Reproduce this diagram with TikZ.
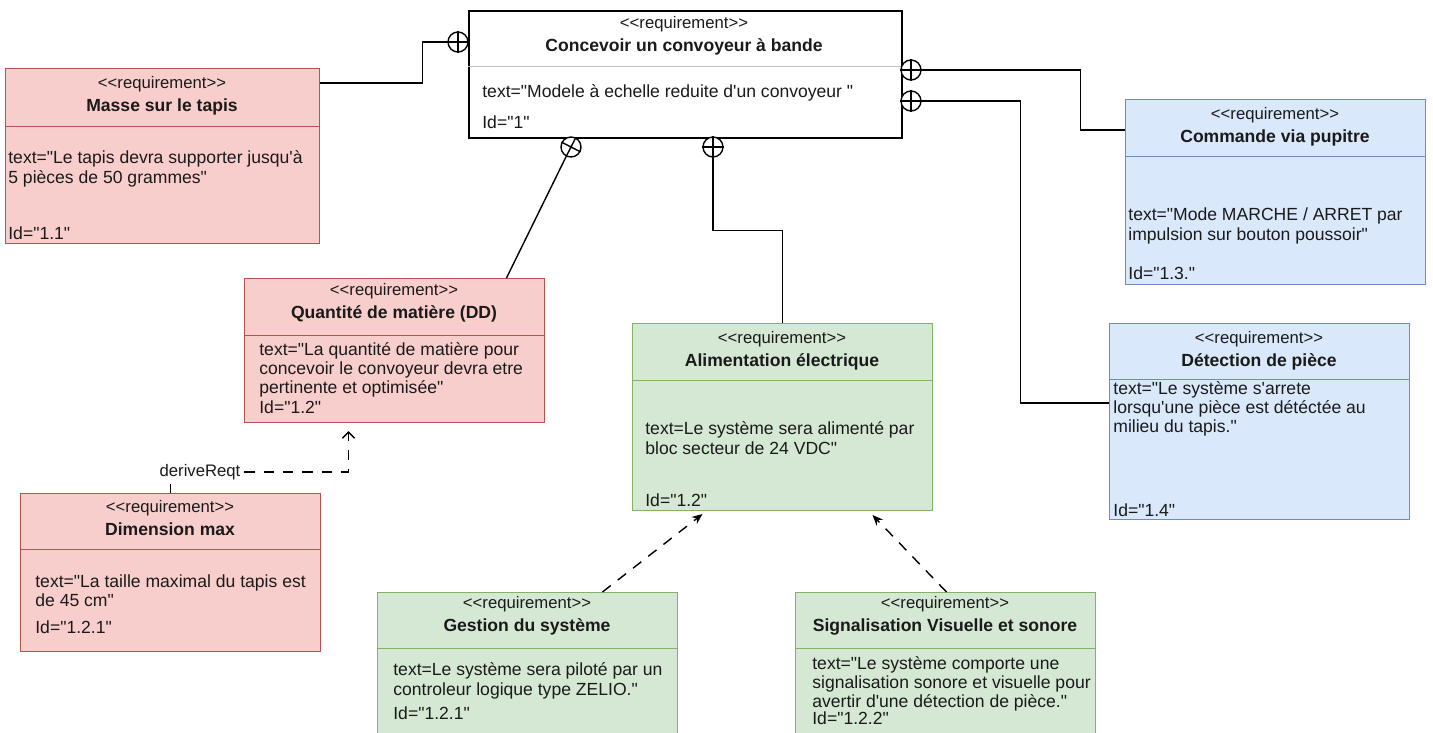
\documentclass[tikz,border=0pt]{standalone}
\usepackage{fontspec}
\setmainfont{Liberation Sans}[Ligatures=TeXOff]
\usetikzlibrary{arrows.meta}

\definecolor{rougefond}{HTML}{F8CECC}
\definecolor{rougetrait}{HTML}{B85450}
\definecolor{bleufond}{HTML}{DAE8FC}
\definecolor{bleutrait}{HTML}{6C8EBF}
\definecolor{vertfond}{HTML}{D5E8D4}
\definecolor{verttrait}{HTML}{82B366}
\definecolor{texte}{HTML}{1A1A1A}
\newcommand{\stereo}{{\fontsize{9.5}{11}\selectfont <<requirement>>}}

\begin{document}
\begin{tikzpicture}[x=0.02cm, y=-0.02cm, >={Straight Barb[length=3.5pt,width=7pt]},
    font=\fontsize{10}{11}\selectfont, text=texte]
        % Style des noeuds
        \tikzstyle{req} = [draw, anchor=north west, inner sep=0pt, minimum width=6cm, line width=0.6pt]
        \tikzstyle{reqblanc} = [req, fill=white, draw=black, line width=1pt]
        \tikzstyle{reqrouge} = [req, fill=rougefond, draw=rougetrait]
        \tikzstyle{reqbleu} = [req, fill=bleufond, draw=bleutrait]
        \tikzstyle{reqvert} = [req, fill=vertfond, draw=verttrait]
        \tikzstyle{titre} = [align=center, inner sep=0pt]
        \tikzstyle{corps} = [align=left, anchor=west, inner sep=0pt]
        \tikzstyle{contient} = [circle, draw, fill=white, minimum size=0.4cm, inner sep=0pt, line width=0.8pt]
        \tikzstyle{lien} = [line width=0.8pt]
        \tikzstyle{derive} = [lien, dash pattern=on 6pt off 5pt, ->]
        \tikzstyle{raffine} = [lien, dash pattern=on 6pt off 5pt, -{Stealth[length=6pt,width=5pt]}]
        \tikzstyle{etiquette} = [fill=white, inner sep=2pt, font=\fontsize{9.5}{11}\selectfont]

        \useasboundingbox (0,0) rectangle (1433,733);
        \fill[white] (0,0) rectangle (1433,733);

        % Définition des blocs
        \node[reqblanc, minimum width=8.66cm, minimum height=2.54cm] (conc) at (468,10) {};
        \node[reqrouge, minimum width=6.28cm, minimum height=3.5cm] (masse) at (5,68) {};
        \node[reqrouge, minimum height=2.88cm] (quant) at (244,278) {};
        \node[reqrouge, minimum height=3.16cm] (dim) at (20,493) {};
        \node[reqvert, minimum height=3.74cm] (alim) at (632,323) {};
        \node[reqbleu, minimum height=3.7cm] (cmd) at (1125,99) {};
        \node[reqbleu, minimum height=3.92cm] (det) at (1109,323) {};
        \node[reqvert, minimum height=3.2cm] (gest) at (377,592) {};
        \node[reqvert, minimum height=3.2cm] (sig) at (795,592) {};

        % Séparations
        \draw[black!25] (conc.west |- 0,66) -- (conc.east |- 0,66);
        \draw[rougetrait] (masse.west |- 0,126) -- (masse.east |- 0,126);
        \draw[rougetrait] (quant.west |- 0,335) -- (quant.east |- 0,335);
        \draw[rougetrait] (dim.west |- 0,549) -- (dim.east |- 0,549);
        \draw[verttrait] (alim.west |- 0,380) -- (alim.east |- 0,380);
        \draw[bleutrait] (cmd.west |- 0,156) -- (cmd.east |- 0,156);
        \draw[bleutrait] (det.west |- 0,379) -- (det.east |- 0,379);
        \draw[verttrait] (gest.west |- 0,648) -- (gest.east |- 0,648);
        \draw[verttrait] (sig.west |- 0,648) -- (sig.east |- 0,648);

        % Titres
        \node[titre] (conc-t) at (684,36) {\stereo\\[2pt]\textbf{Concevoir un convoyeur à bande}};
        \node[titre] (masse-t) at (162,96) {\stereo\\[2pt]\textbf{Masse sur le tapis}};
        \node[titre] (quant-t) at (394,303) {\stereo\\[2pt]\textbf{Quantité de matière (DD)}};
        \node[titre] (dim-t) at (170,518) {\stereo\\[2pt]\textbf{Dimension max}};
        \node[titre] (alim-t) at (782,351) {\stereo\\[2pt]\textbf{Alimentation électrique}};
        \node[titre] (cmd-t) at (1275,127) {\stereo\\[2pt]\textbf{Commande via pupitre}};
        \node[titre] (det-t) at (1259,351) {\stereo\\[2pt]\textbf{Détection de pièce}};
        \node[titre] (gest-t) at (527,616) {\stereo\\[2pt]\textbf{Gestion du système}};
        \node[titre] (sig-t) at (945,616) {\stereo\\[2pt]\textbf{Signalisation Visuelle et sonore}};

        % Textes
        \node[corps] (conc-b) at (482,93) {text="Modele à echelle reduite d'un convoyeur "};
        \node[corps] (conc-id) at (482,122) {Id="1"};
        \node[corps] (masse-b) at (8,169) {text="Le tapis devra supporter jusqu'à\\5 pièces de 50 grammes"};
        \node[corps] (masse-id) at (8,233) {Id="1.1"};
        \node[corps] (quant-b) at (259,370) {text="La quantité de matière pour\\concevoir le convoyeur devra etre\\pertinente et optimisée"};
        \node[corps] (quant-id) at (259,407) {Id="1.2"};
        \node[corps] (dim-b) at (35,591) {text="La taille maximal du tapis est\\de 45 cm"};
        \node[corps] (dim-id) at (35,627) {Id="1.2.1"};
        \node[corps] (alim-b) at (645,438) {text=Le système sera alimenté par\\bloc secteur de 24 VDC"};
        \node[corps] (alim-id) at (645,500) {Id="1.2"};
        \node[corps] (cmd-b) at (1128,226) {text="Mode MARCHE / ARRET par\\impulsion sur bouton poussoir"};
        \node[corps] (cmd-id) at (1128,273) {Id="1.3."};
        \node[corps] (det-b) at (1113,409) {text="Le système s'arrete\\lorsqu'une pièce est détéctée au\\milieu du tapis."};
        \node[corps] (det-id) at (1113,510) {Id="1.4"};
        \node[corps] (gest-b) at (393,681) {text=Le système sera piloté par un\\controleur logique type ZELIO."};
        \node[corps] (gest-id) at (393,713) {Id="1.2.1"};
        \node[corps] (sig-b) at (812,684) {text="Le système comporte une\\signalisation sonore et visuelle pour\\avertir d'une détection de pièce."};
        \node[corps] (sig-id) at (812,718) {Id="1.2.2"};

        % Liens de contenance
        \node[contient] (c-masse) at (458,42) {};
        \node[contient] (c-cmd) at (911,70) {};
        \node[contient] (c-det) at (911,101) {};
        \node[contient] (c-quant) at (571,147) {};
        \node[contient] (c-alim) at (713,147) {};
        \foreach \c in {c-masse, c-cmd, c-det, c-alim}
            \draw[lien] (\c.north) -- (\c.south) (\c.west) -- (\c.east);
        \draw[lien] (c-quant.63.6) -- (c-quant.243.6) (c-quant.153.6) -- (c-quant.333.6);
        \draw[lien] (c-masse.west) -- ++(-25,0) |- ([yshift=-0.3cm]masse.north east);
        \draw[lien] (c-cmd.east) -- ++(159,0) |- ([yshift=-0.62cm]cmd.north west);
        \draw[lien] (c-det.east) -- ++(99,0) |- ([yshift=-1.6cm]det.north west);
        \draw[lien] (c-alim.south) -- ++(0,73) -| (alim.north);
        \draw[lien] (c-quant.243.6) -- ([xshift=2.24cm]quant.north);

        % Dérivation et raffinement
        \node[etiquette] (lbl) at (200,472) {deriveReqt};
        \draw[lien] (dim.north) -- (dim.north |- lbl.south);
        \draw[derive] (lbl.east) -| ([xshift=-0.92cm, yshift=-0.16cm]quant.south);
        \draw[raffine] ([xshift=1.5cm]gest.north) -- ([xshift=-1.6cm, yshift=-0.06cm]alim.south);
        \draw[raffine] ([xshift=0.02cm]sig.north) -- ([xshift=1.8cm, yshift=-0.08cm]alim.south);

    \end{tikzpicture}
\end{document}
